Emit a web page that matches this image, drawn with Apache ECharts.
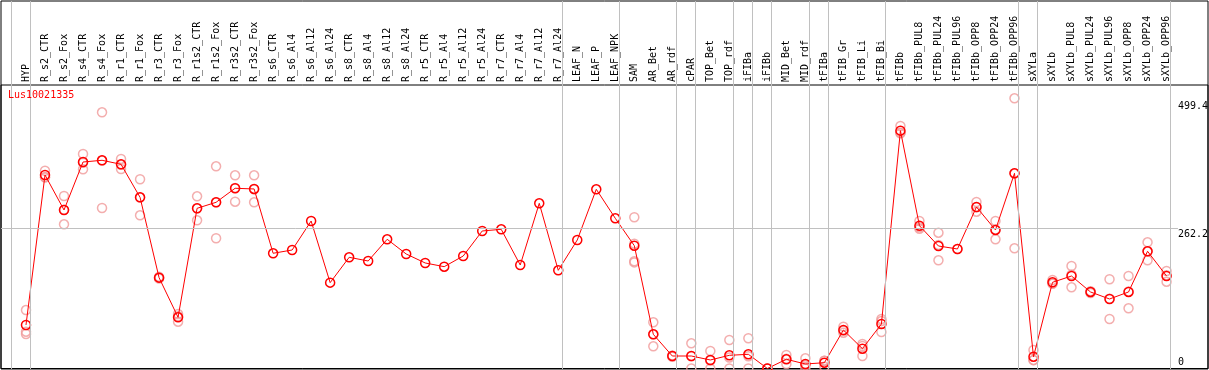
<!DOCTYPE html>
<html>
<head>
<meta charset="utf-8">
<script src="https://cdn.jsdelivr.net/npm/echarts@6/dist/echarts.min.js"></script>
<style>html,body{margin:0;padding:0;background:#fff}#c{width:1209px;height:370px}</style>
</head>
<body>
<div id="c"></div>
<script>
const title = 'Lus10021335';
const categories = ['HYP','R_s2_CTR','R_s2_Fox','R_s4_CTR','R_s4_Fox','R_r1_CTR','R_r1_Fox','R_r3_CTR','R_r3_Fox','R_r1s2_CTR','R_r1s2_Fox','R_r3s2_CTR','R_r3s2_Fox','R_s6_CTR','R_s6_Al4','R_s6_Al12','R_s6_Al24','R_s8_CTR','R_s8_Al4','R_s8_Al12','R_s8_Al24','R_r5_CTR','R_r5_Al4','R_r5_Al12','R_r5_Al24','R_r7_CTR','R_r7_Al4','R_r7_Al12','R_r7_Al24','LEAF_N','LEAF_P','LEAF_NPK','SAM','AR_Bet','AR_rdf','cPAR','TOP_Bet','TOP_rdf','iFIBa','iFIBb','MID_Bet','MID_rdf','tFIBa','tFIB_Gr','tFIB_Li','tFIB_Bi','tFIBb','tFIBb_PUL8','tFIBb_PUL24','tFIBb_PUL96','tFIBb_OPP8','tFIBb_OPP24','tFIBb_OPP96','sXYLa','sXYLb','sXYLb_PUL8','sXYLb_PUL24','sXYLb_PUL96','sXYLb_OPP8','sXYLb_OPP24','sXYLb_OPP96'];
const means = [81.2,361.1,295.8,385.3,388.5,381.0,319.4,169.5,95.5,298.9,310.1,336.3,335.0,215.0,221.1,275.2,160.2,207.5,200.6,241.1,213.7,196.9,190.0,209.9,256.6,259.7,193.1,308.2,183.2,239.8,334.4,280.3,229.2,63.8,23.3,23.3,15.9,24.6,26.5,0,17.2,8.4,10.8,71.8,37.0,83.0,443.8,266.5,228.6,223.0,301.4,258.5,364.2,22.0,160.8,172.6,142.8,129.7,142.8,218.7,172.6];
const replicates = [
 [109,68.7,64.4],[369,357,357],[321.9,269.1,296],[400.3,371.7,384],[478.1,299.5,388],[391,372.3,380],[353.1,285.9,319],[171,168,169.5],[101.7,87.3,97.5],[321.3,276.5,299],[377.3,243,310],[360.5,311.3,337],[360.5,310.1,334.4],
 [],[],[],[],[],[],[],[],[],[],[],[],[],[],[],[],[],[],[],
 [282.2,233,200,198],[86.2,41.4,63.8],[22,24,24],[47,0,23],[32.7,0,15],[53.2,0,20.6],[56.4,0,23],[0,0,0],[25.2,8.4,18],[19,0,6],[14.6,3.4,14.4],[78,66.8,70.6],[45.7,23.3,42],[92.4,68.1,88.5],[452.5,438.9,440],[275.2,260.9,263.4],[253.4,201.9,230.5],[223],[310.7,292.6,300.9],[275.2,241.1,259.2],[504.2,224.3,364.1],[34.5,15.9,15.6],[165.1,158,159],[191.3,151.5,175],[141,144,143],[166.5,92.4,130.2],[172.6,112.3,143.5],[235.5,201.9,218.7],[181.9,162,174]
];
const yTicks = [0, 262.2, 499.4];
const groupStarts = [0,1,29,32,35,36,38,39,40,42,43,46,53,54,61];

const X_MIN = -1.315, X_MAX = 62.18, Y_MAX = 529;
const FONT = 'DejaVu Sans Mono';

const meanData = means.map((v, i) => [i, v]);
const repData = [];
replicates.forEach((arr, i) => arr.forEach(v => repData.push([i, v])));
const sepLines = groupStarts.map(i => ({ xAxis: i - 0.78 }));

const chart = echarts.init(document.getElementById('c'), null, { renderer: 'canvas' });
chart.setOption({
  animation: false,
  backgroundColor: '#fff',
  title: {
    text: title, left: 8, top: 90, padding: 0,
    textStyle: { color: '#ff0000', fontSize: 10, fontWeight: 'normal', fontFamily: FONT }
  },
  grid: [
    { left: 1, right: 1, top: 1, bottom: 1, show: true, borderColor: '#000', borderWidth: 1, outerBoundsMode: 'none', containLabel: false },
    { left: 1, right: 1, top: 85, bottom: 1.5, show: true, borderColor: '#000', borderWidth: 1, outerBoundsMode: 'none', containLabel: false }
  ],
  xAxis: [
    { gridIndex: 0, type: 'value', min: X_MIN, max: X_MAX, show: false },
    { gridIndex: 1, type: 'value', min: X_MIN, max: X_MAX, position: 'top',
      axisLine: { show: false }, axisTick: { show: false }, splitLine: { show: false },
      axisLabel: {
        customValues: categories.map((_, i) => i),
        formatter: v => categories[Math.round(v)] || '',
        rotate: 90, margin: 3, fontSize: 10, fontFamily: FONT, color: '#000', hideOverlap: false
      }
    }
  ],
  yAxis: [
    { gridIndex: 0, type: 'value', min: 0, max: 1, show: false },
    { gridIndex: 1, type: 'value', min: 0, max: Y_MAX, position: 'right', offset: -32,
      axisLine: { show: false }, axisTick: { show: false }, splitLine: { show: false },
      axisLabel: {
        customValues: yTicks,
        formatter: v => (v === 0 ? '0\n ' : '\n' + v),
        lineHeight: 12, margin: 2, fontSize: 10, fontFamily: FONT, color: '#000'
      }
    }
  ],
  series: [
    { type: 'line', xAxisIndex: 0, yAxisIndex: 0, data: [], silent: true, z: 1,
      markLine: { silent: true, symbol: 'none', animation: false, label: { show: false },
        lineStyle: { color: '#c0c0c0', width: 1, type: 'solid' }, data: sepLines } },
    { type: 'line', xAxisIndex: 1, yAxisIndex: 1, data: [], silent: true, z: 1,
      markLine: { silent: true, symbol: 'none', animation: false, label: { show: false },
        lineStyle: { color: '#c0c0c0', width: 1, type: 'solid' },
        data: [[{ coord: [X_MIN, yTicks[1]] }, { coord: [60.6, yTicks[1]] }]] } },
    { type: 'scatter', xAxisIndex: 1, yAxisIndex: 1, data: repData, symbol: 'circle', symbolSize: 9, z: 3,
      itemStyle: { color: 'rgba(0,0,0,0)', borderColor: '#f09a9a', borderWidth: 1.5 } },
    { type: 'line', xAxisIndex: 1, yAxisIndex: 1, data: meanData, symbol: 'circle', symbolSize: 9, z: 4,
      clip: false,
      lineStyle: { color: '#ff0000', width: 1 },
      itemStyle: { color: 'rgba(0,0,0,0)', borderColor: '#ff0000', borderWidth: 1.5 } }
  ]
});
</script>
</body>
</html>
